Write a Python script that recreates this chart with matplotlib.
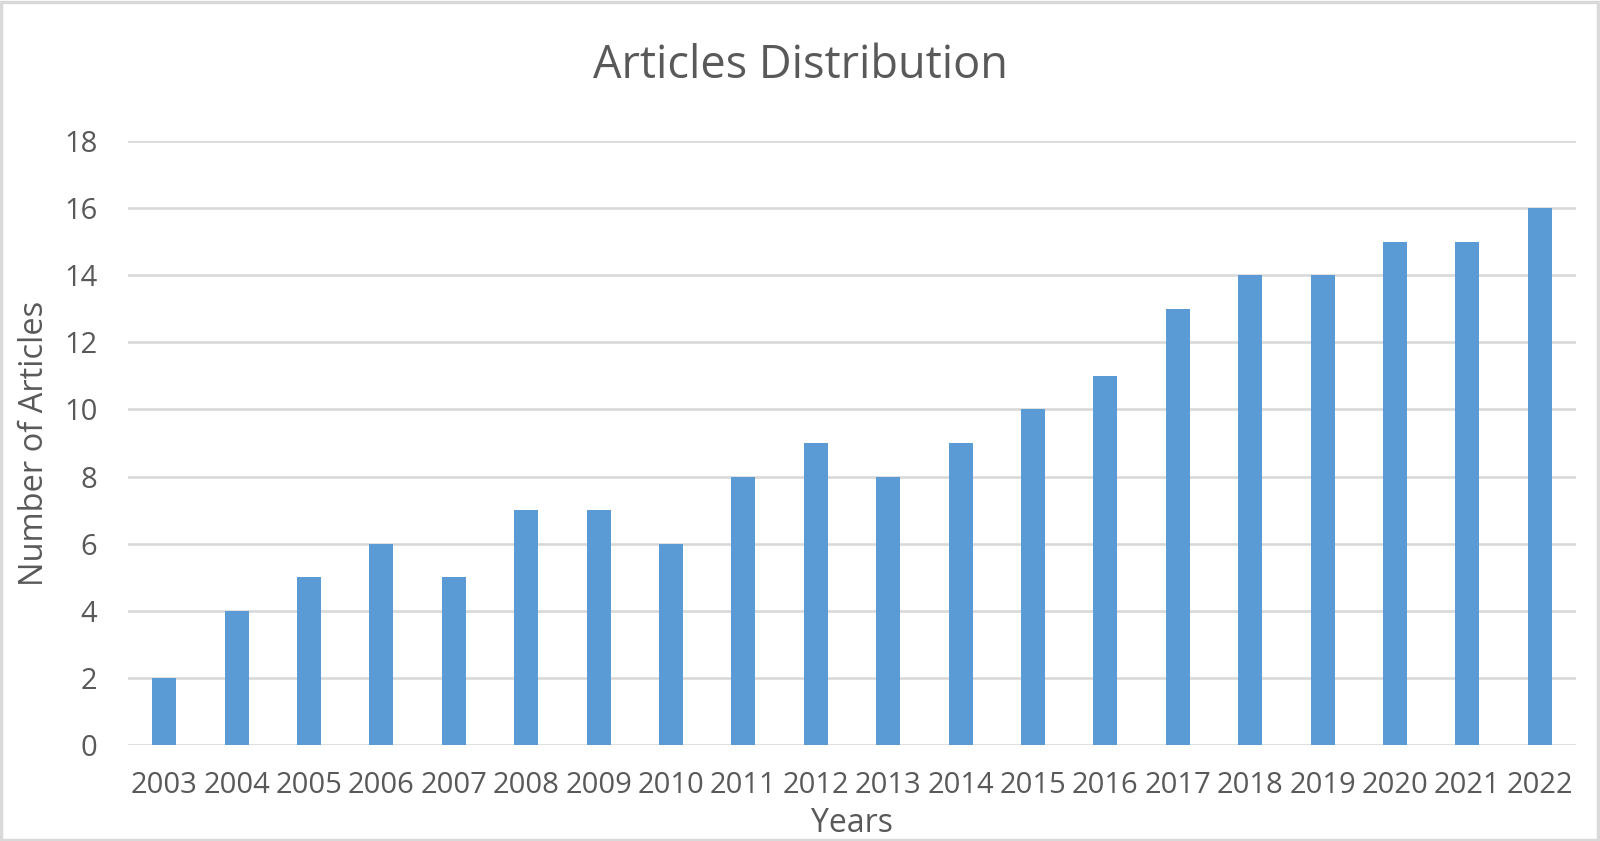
import matplotlib
matplotlib.use("Agg")
import matplotlib.pyplot as plt
from matplotlib.patches import Rectangle

years = ["2003", "2004", "2005", "2006", "2007", "2008", "2009", "2010", "2011", "2012",
         "2013", "2014", "2015", "2016", "2017", "2018", "2019", "2020", "2021", "2022"]
articles = [2, 4, 5, 6, 5, 7, 7, 6, 8, 9, 8, 9, 10, 11, 13, 14, 14, 15, 15, 16]
yticks = [0, 2, 4, 6, 8, 10, 12, 14, 16, 18]

plt.rcParams['font.family'] = ['Open Sans', 'DejaVu Sans']
text_color = '#595959'
W, H = 1600, 841
fig = plt.figure(figsize=(W/100, H/100), dpi=100)
ax = fig.add_axes([128/W, 1-745/H, (1576-128)/W, (745-141)/H])

x = list(range(len(years)))
ax.bar(x, articles, width=0.33, color='#5B9BD5', zorder=3)
ax.set_xlim(-0.5, len(years)-0.5)
ax.set_ylim(0, 18)
ax.set_yticks(yticks)
ax.set_yticklabels([str(v) for v in yticks])
ax.set_xticks(x)
ax.set_xticklabels(years)
ax.grid(axis='y', color='#D9D9D9', linewidth=1.9, zorder=0)
for s in ax.spines.values():
    s.set_visible(False)
ax.tick_params(axis='both', length=0, labelsize=21, colors=text_color)
ax.tick_params(axis='y', pad=22)
ax.tick_params(axis='x', pad=19)

fig.text(0.5, 1-66/H, "Articles Distribution", ha='center', va='center', fontsize=32.5, color=text_color)
fig.text(852/W, 1-823/H, "Years", ha='center', va='center', fontsize=23, color=text_color)
fig.text(35/W, 1-443/H, "Number of Articles", ha='center', va='center', rotation=90, fontsize=23.5, color=text_color)

fig.patches.append(Rectangle((1/W, 1/H), 1-3/W, 1-3/H, transform=fig.transFigure,
                             fill=False, edgecolor='#D9D9D9', linewidth=2.5))
fig.savefig("out.png", dpi=100, facecolor='white')
